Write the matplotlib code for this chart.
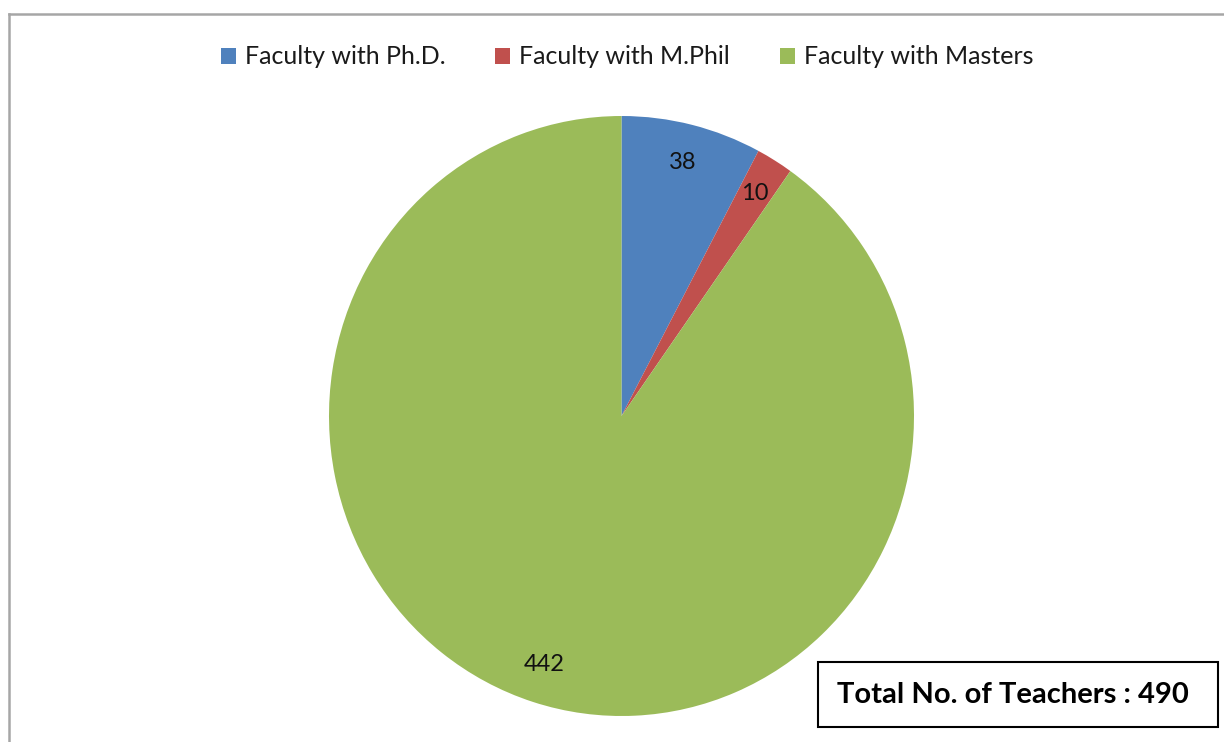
import matplotlib
matplotlib.use("Agg")
import matplotlib.pyplot as plt
from matplotlib.patches import Rectangle
from matplotlib.lines import Line2D

categories = ["Faculty with Ph.D.", "Faculty with M.Phil", "Faculty with Masters"]
values = [38, 10, 442]
colors = ["#4F81BD", "#C0504D", "#9BBB59"]
total_label = "Total No. of Teachers : 490"

W, H = 1224, 742
fig = plt.figure(figsize=(W / 100, H / 100), dpi=100)
plt.rcParams['font.family'] = ['Lato', 'DejaVu Sans']

# outer chart frame (extends beyond bottom/right)
fig.add_artist(Line2D([9 / W, 1.01], [1 - 14 / H, 1 - 14 / H], color="#A6A6A6", lw=1.8,
                      transform=fig.transFigure))
fig.add_artist(Line2D([9 / W, 9 / W], [1 - 14 / H, -0.01], color="#A6A6A6", lw=1.8,
                      transform=fig.transFigure))

ax = fig.add_axes([329 / W, (H - 716) / H, 585 / W, 600 / H])
wedges, texts, autotexts = ax.pie(values, colors=colors, startangle=90, counterclock=False,
                                  autopct=lambda p: f"{round(p * sum(values) / 100):d}",
                                  pctdistance=0.87, radius=1,
                                  wedgeprops=dict(linewidth=0),
                                  textprops=dict(fontsize=17, color="#111111"))
ax.set_aspect('auto')
ax.set_xlim(-1, 1)
ax.set_ylim(-1, 1)

fig.legend(wedges, categories, loc="center", bbox_to_anchor=(627 / W, 1 - 57 / H),
           ncol=3, frameon=False, fontsize=18, handlelength=0.6, handleheight=0.6,
           handletextpad=0.35, columnspacing=2.0, labelcolor="#1a1a1a")

fig.add_artist(Rectangle((818 / W, 1 - 727 / H), 400 / W, 65 / H, transform=fig.transFigure,
                         fill=False, edgecolor="black", lw=1.5))
fig.text(1013 / W, 1 - 695 / H, total_label, ha="center", va="center", fontsize=21,
         fontweight="bold", color="black")

fig.savefig("out.png", dpi=100)
